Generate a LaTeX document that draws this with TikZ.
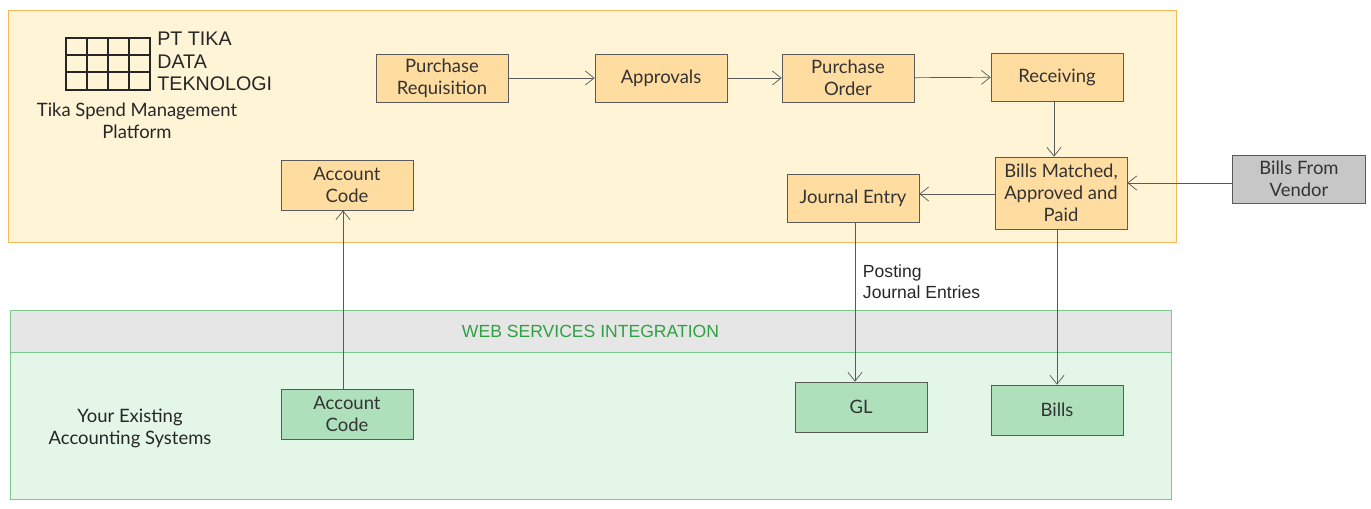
\documentclass[tikz,border=0pt]{standalone}
\usepackage{fontspec}
\setmainfont{Lato}
\newfontfamily\logofont{Liberation Sans}
\usetikzlibrary{positioning,arrows.meta}
\definecolor{panelfill}{HTML}{FFF4D6}
\definecolor{paneldraw}{HTML}{F8B95A}
\definecolor{boxfill}{HTML}{FFDCA0}
\definecolor{greenfill}{HTML}{E3F6E8}
\definecolor{greendraw}{HTML}{7CCB8E}
\definecolor{gboxfill}{HTML}{AEE0BC}
\definecolor{headfill}{HTML}{E6E6E6}
\definecolor{linecol}{HTML}{5A5A5A}
\definecolor{headtext}{HTML}{2FA043}
\tikzset{
  box/.style={draw=linecol,fill=boxfill,minimum width=2.64cm,minimum height=0.96cm,
    align=center,font=\fontsize{10.5}{12.5}\selectfont,text=black!80,inner sep=1pt},
  gbox/.style={box,fill=gboxfill},
  vbox/.style={box,fill=black!22},
  flow/.style={-{Straight Barb[length=5pt,width=8pt]},draw=linecol},
  txt/.style={align=center,font=\fontsize{10.5}{12.5}\selectfont,text=black!85},
  stxt/.style={font=\logofont\fontsize{10}{12}\selectfont,text=black!85}
}
\begin{document}
\begin{tikzpicture}[x=0.02cm,y=-0.02cm]
        \useasboundingbox (0,0) rectangle (1371,509);
        % panels
        \draw[paneldraw,fill=panelfill] (8,10) rectangle (1176,242);
        \draw[greendraw,fill=greenfill] (10,310) rectangle (1171,499);
        \draw[greendraw,fill=headfill] (10,310) rectangle (1171,352)
          node[midway,stxt,text=headtext] {WEB SERVICES INTEGRATION};

        % logo
        \draw[line width=1.6pt,black!85] (66,38) rectangle (150,90);
        \foreach \x in {87,108,129}
        {\draw[line width=1.4pt,black!85] (\x,38) -- (\x,90);}
        \foreach \y in {55,72}
        {\draw[line width=1.4pt,black!85] (66,\y) -- (150,\y);}
        \node[anchor=north west,align=left,inner sep=0pt,font=\logofont\fontsize{11.2}{12.8}\selectfont,text=black!85]
          (logo) at (157,32) {PT TIKA\\DATA\\TEKNOLOGI};
        \node[txt] (tika) at (137,121) {Tika Spend Management\\Platform};
        \node[txt] (existing) at (130,428) {Your Existing\\Accounting Systems};

        % platform boxes
        \node[box] (req) at (442,78) {Purchase\\Requisition};
        \node[box] (appr) at (661,78) {Approvals};
        \node[box] (po) at (848,78) {Purchase\\Order};
        \node[box] (recv) at (1057,77) {Receiving};
        \node[box,minimum height=1.44cm] (match) at (1061,193) {Bills Matched,\\Approved and\\Paid};
        \node[box] (journal) at (853,198) {Journal Entry};
        \node[box,minimum height=1cm] (acct) at (347,185) {Account\\Code};
        \node[vbox,minimum width=2.66cm] (vendor) at (1299,179) {Bills From\\Vendor};

        % accounting boxes
        \node[gbox,minimum height=1cm] (acctsys) at (347,414) {Account\\Code};
        \node[gbox,minimum height=1cm] (gl) at (861,407) {GL};
        \node[gbox,minimum height=1cm] (bills) at (1057,410) {Bills};

        % guides for the vertical and horizontal connectors
        \coordinate (xrecv) at (1054,0);
        \coordinate (xjour) at (855,0);
        \coordinate (xbill) at (1057,0);
        \coordinate (xacct) at (343,0);
        \coordinate (yvend) at (0,183);
        \coordinate (ymatch) at (0,194);

        % connectors
        \draw[flow] (req) -- (appr);
        \draw[flow] (appr) -- (po);
        \draw[flow] (po) -- (recv);
        \draw[flow] (recv.south -| xrecv) -- (match.north -| xrecv);
        \draw[flow] (vendor.west |- yvend) -- (match.east |- yvend);
        \draw[flow] (match.west |- ymatch) -- (journal.east |- ymatch);
        \draw[flow] (journal.south -| xjour) -- node[pos=0.37,right=1pt,stxt,align=left] {Posting\\Journal Entries} (gl.north -| xjour);
        \draw[flow] (match.south -| xbill) -- (bills.north -| xbill);
        \draw[flow] (acctsys.north -| xacct) -- (acct.south -| xacct);
      \end{tikzpicture}
\end{document}
